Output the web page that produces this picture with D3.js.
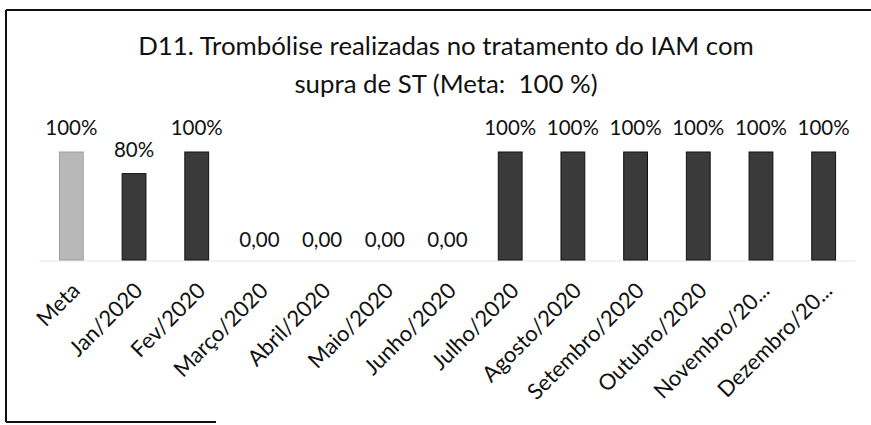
<!DOCTYPE html>
<html>
<head>
<meta charset="utf-8">
<script src="https://cdn.jsdelivr.net/npm/d3@7"></script>
<style>
  body { margin: 0; background: #fff; }
  svg { display: block; font-family: Lato, "Open Sans", sans-serif; }
</style>
</head>
<body>
<svg id="chart"></svg>
<script>
// dados
const categories = ["Meta", "Jan/2020", "Fev/2020", "Março/2020", "Abril/2020", "Maio/2020", "Junho/2020",
  "Julho/2020", "Agosto/2020", "Setembro/2020", "Outubro/2020", "Novembro/20...", "Dezembro/20..."];
const values = [100, 80, 100, 0, 0, 0, 0, 100, 100, 100, 100, 100, 100];
const valueLabels = ["100%", "80%", "100%", "0,00", "0,00", "0,00", "0,00", "100%", "100%", "100%", "100%", "100%", "100%"];
const titleLines = ["D11. Trombólise realizadas no tratamento do IAM com", "supra de ST (Meta:  100 %)"];

const width = 871, height = 425;
const margin = { top: 152, right: 16, bottom: 165, left: 40 };
const innerH = height - margin.top - margin.bottom;

const svg = d3.select("#chart").attr("width", width).attr("height", height);

// moldura (digitalizada: topo, esquerda e parte de baixo)
svg.append("line").attr("x1", 6).attr("x2", width).attr("y1", 10).attr("y2", 10)
  .attr("stroke", "#111").attr("stroke-width", 2);
svg.append("line").attr("x1", 6).attr("x2", 6).attr("y1", 10).attr("y2", 422)
  .attr("stroke", "#111").attr("stroke-width", 2);
svg.append("line").attr("x1", 6).attr("x2", 216).attr("y1", 422).attr("y2", 422)
  .attr("stroke", "#111").attr("stroke-width", 2);

// título
svg.append("text")
  .attr("text-anchor", "middle")
  .attr("font-size", 25.8)
  .attr("fill", "#111")
  .selectAll("tspan")
  .data(titleLines)
  .enter().append("tspan")
  .attr("x", 446)
  .attr("y", (d, i) => 55 + i * 38)
  .style("white-space", "pre")
  .text(d => d);

const g = svg.append("g").attr("transform", "translate(" + margin.left + "," + margin.top + ")");

const x = d3.scaleBand()
  .domain(categories)
  .range([0, width - margin.left - margin.right])
  .paddingInner(0.62)
  .paddingOuter(0.31);

const y = d3.scaleLinear()
  .domain([0, 100])
  .range([innerH, 0]);

// linha de base clara
g.append("line")
  .attr("x1", x(categories[0]) - 20).attr("x2", x(categories[categories.length - 1]) + x.bandwidth() + 20)
  .attr("y1", innerH + 1).attr("y2", innerH + 1)
  .attr("stroke", "#e6e6e6").attr("stroke-width", 1);

g.selectAll(".bar")
  .data(categories)
  .enter().append("rect")
  .attr("class", "bar")
  .attr("x", d => x(d))
  .attr("y", (d, i) => y(values[i]))
  .attr("width", x.bandwidth())
  .attr("height", (d, i) => innerH - y(values[i]))
  .attr("fill", (d, i) => i === 0 ? "#b8b8b8" : "#3a3a3a")
  .attr("stroke", (d, i) => i === 0 ? "#a0a0a0" : "#111")
  .attr("stroke-width", 1);

g.selectAll(".lbl")
  .data(categories)
  .enter().append("text")
  .attr("class", "lbl")
  .attr("x", d => x(d) + x.bandwidth() / 2)
  .attr("y", (d, i) => y(values[i]) - (values[i] === 0 ? 13 : 17))
  .attr("text-anchor", "middle")
  .attr("font-size", 20.5)
  .attr("fill", "#111")
  .text((d, i) => valueLabels[i]);

// eixo x com rótulos inclinados
const xAxis = g.append("g")
  .attr("transform", "translate(0," + innerH + ")")
  .call(d3.axisBottom(x).tickSize(0).tickPadding(0));
xAxis.select(".domain").remove();
xAxis.selectAll("text")
  .attr("font-size", 22)
  .attr("font-family", "Lato, 'Open Sans', sans-serif")
  .attr("fill", "#111")
  .attr("text-anchor", "end")
  .attr("dy", 0)
  .attr("transform", "translate(10,32) rotate(-45)");
</script>
</body>
</html>
